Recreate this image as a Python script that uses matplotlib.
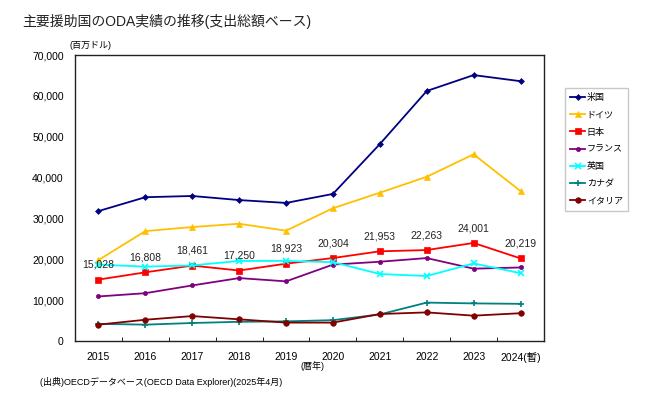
"""ODA by major donors, gross disbursement basis."""
import matplotlib
matplotlib.use("Agg")
import matplotlib.pyplot as plt
import numpy as np

plt.rcParams["font.family"] = ["Liberation Sans", "Noto Sans CJK JP"]

years = ["2015", "2016", "2017", "2018", "2019", "2020", "2021", "2022",
         "2023", "2024(暫)"]
usa = [31800, 35200, 35500, 34500, 33800, 36000, 48200, 61200, 65100, 63600]
germany = [19800, 26900, 27900, 28700, 27000, 32500, 36300, 40200, 45700,
           36700]
japan = [15028, 16808, 18461, 17250, 18923, 20304, 21953, 22263, 24001, 20219]
france = [10900, 11700, 13600, 15400, 14600, 18700, 19400, 20300, 17700,
          18000]
uk = [18700, 18200, 18500, 19600, 19600, 19300, 16400, 15900, 19000, 16600]
canada = [4200, 4000, 4400, 4700, 4800, 5100, 6500, 9400, 9200, 9100]
italy = [4000, 5200, 6100, 5300, 4500, 4500, 6600, 7000, 6200, 6800]

series = [
    ("米国", usa, "#000080", "D", 3),
    ("ドイツ", germany, "#FFC000", "^", 4),
    ("日本", japan, "#FF0000", "s", 4.5),
    ("フランス", france, "#800080", "o", 3),
    ("英国", uk, "#00FFFF", "x", 4),
    ("カナダ", canada, "#008080", "+", 5),
    ("イタリア", italy, "#800000", "o", 4),
]

fig = plt.figure(figsize=(6.6, 3.99), dpi=100)
ax = fig.add_axes([0.1136, 0.1454, 0.7106, 0.7166])

x = np.arange(len(years)) + 0.5
for name, vals, color, marker, ms in series:
    ax.plot(x, vals, color=color, marker=marker, markersize=ms, lw=1.3,
            label=name, markeredgewidth=1.2 if marker in "x+" else 0.5)

for xi, v in zip(x, japan):
    ax.annotate("{:,}".format(v), (xi, v), xytext=(0, 7),
                textcoords="offset points", ha="center", va="bottom",
                fontsize=7.5, color="#222222")

ax.set_xlim(0, len(years))
ax.set_ylim(0, 70000)
ax.set_yticks(range(0, 70001, 10000))
ax.set_yticklabels(["{:,}".format(v) for v in range(0, 70001, 10000)])
ax.set_xticks(x)
ax.set_xticklabels(years)
ax.set_xticks(np.arange(1, len(years)), minor=True)
ax.tick_params(axis="x", which="major", length=0, labelsize=7.5, pad=8)
ax.tick_params(axis="x", which="minor", length=3, direction="in")
ax.tick_params(axis="y", length=0, labelsize=7.5, pad=8)
for s in ax.spines.values():
    s.set_linewidth(1.0)
    s.set_color("#222222")

leg = ax.legend(loc="upper left", bbox_to_anchor=(1.045, 0.885),
                fontsize=6.5, frameon=True, fancybox=False,
                edgecolor="#bbbbbb", handlelength=1.6, labelspacing=0.9,
                borderpad=0.6, handletextpad=0.2, borderaxespad=0)

fig.text(0.033, 0.945, "主要援助国のODA実績の推移(支出総額ベース)", fontsize=10,
         ha="left", va="center", color="#222222")
fig.text(0.105, 0.886, "(百万ドル)", fontsize=6.5, ha="left", va="center")
fig.text(0.455, 0.083, "(暦年)", fontsize=6.5, ha="left", va="center")
fig.text(0.06, 0.043,
         "(出典)OECDデータベース(OECD Data Explorer)(2025年4月)",
         fontsize=6.5, ha="left", va="center")

fig.savefig("out.png", dpi=100)
